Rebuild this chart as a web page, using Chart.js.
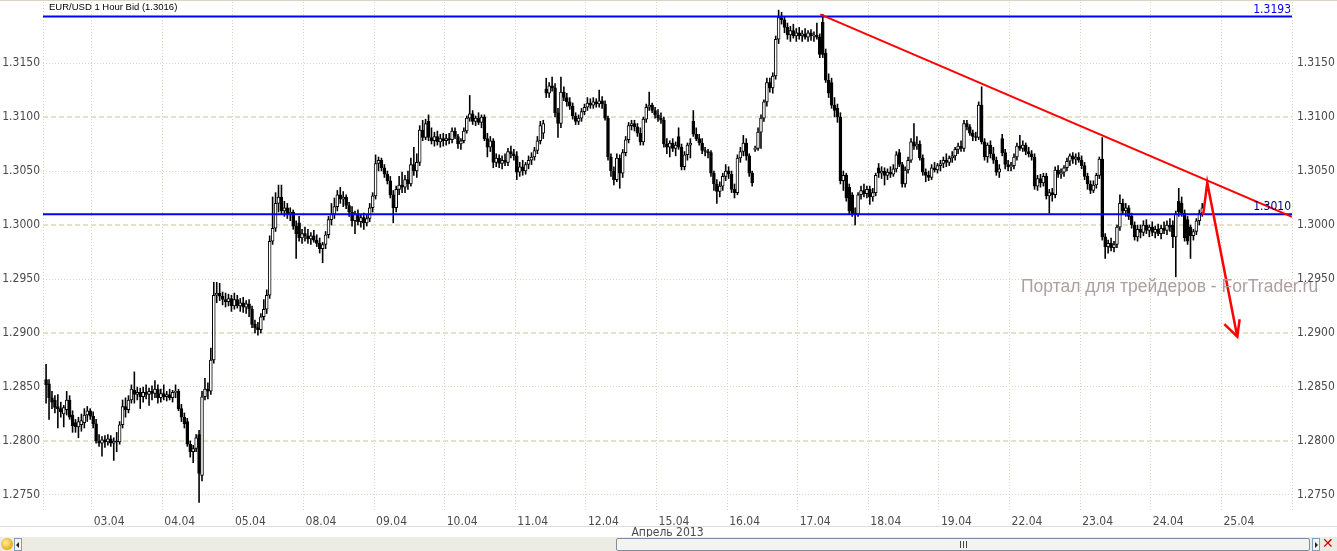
<!DOCTYPE html>
<html><head><meta charset="utf-8">
<script src="https://cdn.jsdelivr.net/npm/chart.js@4.4.1/dist/chart.umd.min.js"></script>
<style>
html,body{margin:0;padding:0;background:#fff;width:1337px;height:551px;overflow:hidden;position:relative;}
#wrap{position:absolute;left:0;top:0;width:1337px;height:539px;}
#title{position:absolute;left:49px;top:1px;font:9.5px "Liberation Sans",Arial,sans-serif;color:#000;line-height:12px;white-space:nowrap;}
#wm{position:absolute;left:1021px;top:276px;font:17.5px "Liberation Sans",Arial,sans-serif;color:#ae9f9f;white-space:nowrap;}
#topline{position:absolute;left:0;top:0;width:1337px;height:1px;background:#d8d4c4;}
#sep{position:absolute;left:0;top:526px;width:1337px;height:1px;background:#dcdcdc;}
#sb{position:absolute;left:0;top:537px;width:1337px;height:14px;background:#ecebe4;}
#ico{position:absolute;left:1px;top:1px;width:12px;height:12px;border-radius:50%;background:radial-gradient(circle at 40% 40%,#fff2a0,#e8a818 70%,#b07010);}
.btn{position:absolute;top:1px;width:6px;height:11px;border:1px solid #7f9db9;background:#f4f4f0;}
#la{left:14px;}#ra{left:1312px;}
.tri{position:absolute;top:3px;width:0;height:0;border-top:3px solid transparent;border-bottom:3px solid transparent;}
#la .tri{left:1px;border-right:3px solid #222;}
#ra .tri{left:2px;border-left:3px solid #222;}
#thumb{position:absolute;left:616px;top:1px;width:692px;height:11px;border:1px solid #7d8ea0;border-radius:2px;background:#f3f3ef;}
#grip{position:absolute;left:343px;top:2px;width:7px;height:7px;}
#grip i{position:absolute;top:0;width:1px;height:7px;background:#444;}
#xbtn{position:absolute;left:1322px;top:-1px;font:bold 14px "DejaVu Sans",sans-serif;color:#d40000;line-height:15px;}
</style></head>
<body>
<div id="wrap"><canvas id="c" width="1337" height="539"></canvas></div>
<div id="topline"></div>
<div id="title">EUR/USD 1 Hour Bid (1.3016)</div>
<div id="wm">Портал для трейдеров - ForTrader.ru</div>
<div id="sep"></div>
<div id="sb">
  <div id="ico"></div>
  <div class="btn" id="la"><div class="tri"></div></div>
  <div id="thumb"><div id="grip"><i style="left:0"></i><i style="left:3px"></i><i style="left:6px"></i></div></div>
  <div class="btn" id="ra"><div class="tri"></div></div>
  <div id="xbtn">✕</div>
</div>
<script>
// ---- Axis / tick data ----
const dayLabels = ['03.04','04.04','05.04','08.04','09.04','10.04','11.04','12.04','15.04','16.04','17.04','18.04','19.04','22.04','23.04','24.04','25.04'];
const dayTickHours = [24,48,72,96,120,144,168,192,216,240,264,288,312,336,360,384,408];
const priceTicks = [1.2750,1.2800,1.2850,1.2900,1.2950,1.3000,1.3050,1.3100,1.3150];
const axisTitle = 'Апрель 2013';
const X_MIN = 7.45, X_MAX = 432;       // hours from 02.04 00:00 (trading time)
const Y_MIN = 1.27361, Y_MAX = 1.32065;
const firstDayStartHour = 8;           // first bar: 02.04 08:00

// ---- Levels and drawings ----
const levels = [ {value:1.3193, color:'#0000ee'}, {value:1.3010, color:'#00006a'} ];
const trendLine = [[271.66,1.31951],[432,1.30076]];
const arrowPath = [[401.8,1.30093],[403.2,1.30392],[413.4,1.28966]];
const arrowHead = [[409.0,1.29083],[413.4,1.28966],[414.2,1.29127]];

// ---- Hourly OHLC, one row per trading day ----
const openRows = [
[1.2857,1.2853,1.2840,1.2838,1.2832,1.2830,1.2825,1.2829,1.2838,1.2824,1.2817,1.2813,1.2815,1.2817,1.2824,1.2828],
[1.2823,1.2816,1.2800,1.2798,1.2801,1.2799,1.2802,1.2798,1.2800,1.2799,1.2815,1.2832,1.2829,1.2838,1.2847,1.2843,1.2845,1.2841,1.2845,1.2843,1.2846,1.2844,1.2848,1.2840],
[1.2844,1.2841,1.2843,1.2840,1.2845,1.2846,1.2830,1.2822,1.2818,1.2797,1.2790,1.2793,1.2806,1.2768,1.2841,1.2848,1.2846,1.2875,1.2935,1.2937,1.2934,1.2931,1.2929,1.2932],
[1.2925,1.2931,1.2925,1.2928,1.2924,1.2927,1.2922,1.2908,1.2905,1.2903,1.2915,1.2922,1.2935,1.2985,1.2997,1.3020,1.3026,1.3013,1.3016,1.3010,1.3012,1.2999,1.3002,1.2988],
[1.2992,1.2990,1.2987,1.2990,1.2986,1.2983,1.2978,1.2982,1.2991,1.3005,1.3010,1.3017,1.3028,1.3024,1.3026,1.3018,1.3012,1.3004,1.3010,1.3003,1.3007,1.3002,1.3006,1.3016],
[1.3027,1.3057,1.3060,1.3053,1.3047,1.3041,1.3028,1.3016,1.3033,1.3037,1.3035,1.3042,1.3038,1.3056,1.3050,1.3058,1.3088,1.3081,1.3096,1.3081,1.3078,1.3082,1.3077,1.3080],
[1.3078,1.3080,1.3079,1.3087,1.3082,1.3075,1.3078,1.3087,1.3099,1.3103,1.3096,1.3099,1.3095,1.3100,1.3080,1.3072,1.3078,1.3058,1.3062,1.3057,1.3060,1.3058,1.3068,1.3066],
[1.3064,1.3049,1.3054,1.3050,1.3056,1.3060,1.3063,1.3069,1.3078,1.3085,1.3126,1.3122,1.3129,1.3127,1.3104,1.3094,1.3123,1.3118,1.3114,1.3110,1.3101,1.3096,1.3099,1.3105],
[1.3109,1.3113,1.3111,1.3114,1.3112,1.3115,1.3112,1.3099,1.3063,1.3050,1.3042,1.3062,1.3048,1.3067,1.3079,1.3092,1.3094,1.3091,1.3085,1.3077,1.3098,1.3109,1.3111,1.3106],
[1.3102,1.3099,1.3097,1.3075,1.3072,1.3076,1.3071,1.3082,1.3072,1.3054,1.3065,1.3074,1.3096,1.3084,1.3080,1.3076,1.3069,1.3068,1.3067,1.3048,1.3038,1.3031,1.3036,1.3045],
[1.3050,1.3047,1.3033,1.3030,1.3062,1.3068,1.3076,1.3064,1.3048,1.3070,1.3071,1.3086,1.3099,1.3114,1.3132,1.3127,1.3138,1.3172,1.3192,1.3190,1.3183,1.3176,1.3180,1.3175],
[1.3178,1.3175,1.3177,1.3174,1.3178,1.3175,1.3176,1.3174,1.3188,1.3159,1.3134,1.3132,1.3111,1.3108,1.3100,1.3041,1.3046,1.3035,1.3028,1.3011,1.3010,1.3028,1.3032,1.3029],
[1.3033,1.3026,1.3030,1.3053,1.3048,1.3050,1.3046,1.3049,1.3047,1.3052,1.3067,1.3056,1.3038,1.3051,1.3060,1.3077,1.3073,1.3075,1.3062,1.3049,1.3046,1.3044,1.3053,1.3051],
[1.3055,1.3057,1.3060,1.3058,1.3062,1.3064,1.3070,1.3073,1.3071,1.3094,1.3091,1.3085,1.3082,1.3081,1.3111,1.3077,1.3063,1.3074,1.3066,1.3060,1.3049,1.3080,1.3067,1.3056],
[1.3054,1.3055,1.3063,1.3073,1.3071,1.3074,1.3068,1.3066,1.3063,1.3036,1.3043,1.3039,1.3045,1.3027,1.3030,1.3028,1.3051,1.3047,1.3049,1.3053,1.3059,1.3064,1.3061,1.3063],
[1.3060,1.3055,1.3045,1.3038,1.3032,1.3037,1.3046,1.3061,1.2989,1.2980,1.2983,1.2979,1.2982,1.2998,1.3020,1.3013,1.3016,1.3008,1.3000,1.2989,1.2996,1.2993,1.3000,1.2995],
[1.2998,1.2993,1.2996,1.2992,1.2997,1.2995,1.3000,1.3000,1.2989,1.3022,1.3020,1.3011,1.3005,1.2998,1.2990,1.2994,1.3004,1.3011]
];
const highRows = [
[1.2871,1.2857,1.2846,1.2842,1.2843,1.2836,1.2833,1.2846,1.2842,1.2828,1.2820,1.2822,1.2825,1.2830,1.2832,1.2830],
[1.2827,1.2820,1.2806,1.2804,1.2805,1.2806,1.2805,1.2803,1.2808,1.2818,1.2838,1.2840,1.2842,1.2852,1.2864,1.2850,1.2849,1.2850,1.2852,1.2849,1.2851,1.2856,1.2852,1.2848],
[1.2852,1.2846,1.2848,1.2847,1.2852,1.2848,1.2834,1.2826,1.2821,1.2800,1.2796,1.2806,1.2810,1.2846,1.2858,1.2854,1.2886,1.2947,1.2947,1.2946,1.2938,1.2937,1.2936,1.2935],
[1.2937,1.2935,1.2932,1.2933,1.2930,1.2931,1.2925,1.2912,1.2910,1.2918,1.2931,1.2940,1.2990,1.3026,1.3030,1.3037,1.3037,1.3022,1.3020,1.3016,1.3014,1.3004,1.3008,1.2996],
[1.2998,1.2996,1.2993,1.2995,1.2991,1.2988,1.2984,1.2994,1.3008,1.3020,1.3025,1.3032,1.3035,1.3031,1.3028,1.3021,1.3017,1.3013,1.3014,1.3010,1.3011,1.3010,1.3020,1.3030],
[1.3065,1.3063,1.3062,1.3056,1.3050,1.3045,1.3032,1.3036,1.3045,1.3049,1.3046,1.3050,1.3062,1.3072,1.3066,1.3092,1.3097,1.3098,1.3102,1.3090,1.3086,1.3087,1.3084,1.3085],
[1.3084,1.3085,1.3090,1.3090,1.3084,1.3080,1.3090,1.3101,1.3120,1.3106,1.3101,1.3104,1.3102,1.3102,1.3085,1.3082,1.3080,1.3066,1.3065,1.3064,1.3066,1.3071,1.3073,1.3070],
[1.3068,1.3058,1.3060,1.3058,1.3064,1.3067,1.3072,1.3082,1.3096,1.3097,1.3136,1.3132,1.3137,1.3131,1.3108,1.3137,1.3128,1.3122,1.3118,1.3113,1.3104,1.3102,1.3108,1.3112],
[1.3118,1.3117,1.3118,1.3117,1.3125,1.3119,1.3115,1.3101,1.3066,1.3054,1.3066,1.3065,1.3070,1.3082,1.3095,1.3097,1.3097,1.3094,1.3090,1.3100,1.3112,1.3123,1.3113,1.3109],
[1.3107,1.3104,1.3100,1.3080,1.3078,1.3080,1.3077,1.3090,1.3075,1.3068,1.3076,1.3080,1.3106,1.3090,1.3084,1.3080,1.3072,1.3070,1.3069,1.3050,1.3042,1.3040,1.3048,1.3056],
[1.3054,1.3050,1.3038,1.3065,1.3072,1.3083,1.3080,1.3066,1.3050,1.3073,1.3090,1.3102,1.3116,1.3136,1.3136,1.3141,1.3175,1.3199,1.3197,1.3193,1.3187,1.3184,1.3186,1.3182],
[1.3183,1.3180,1.3182,1.3180,1.3181,1.3179,1.3187,1.3177,1.3195,1.3163,1.3140,1.3136,1.3118,1.3112,1.3104,1.3050,1.3048,1.3038,1.3030,1.3016,1.3030,1.3036,1.3038,1.3036],
[1.3036,1.3034,1.3048,1.3057,1.3054,1.3053,1.3052,1.3054,1.3056,1.3068,1.3070,1.3058,1.3054,1.3063,1.3080,1.3094,1.3082,1.3078,1.3065,1.3052,1.3050,1.3056,1.3058,1.3057],
[1.3060,1.3063,1.3066,1.3064,1.3068,1.3072,1.3076,1.3078,1.3097,1.3097,1.3093,1.3088,1.3086,1.3114,1.3128,1.3080,1.3076,1.3078,1.3072,1.3063,1.3056,1.3084,1.3070,1.3060],
[1.3058,1.3066,1.3076,1.3083,1.3078,1.3076,1.3072,1.3069,1.3066,1.3046,1.3047,1.3048,1.3048,1.3033,1.3034,1.3054,1.3055,1.3052,1.3055,1.3062,1.3066,1.3067,1.3066,1.3067],
[1.3064,1.3058,1.3048,1.3041,1.3041,1.3048,1.3063,1.3081,1.2992,1.2986,1.2988,1.2985,1.3000,1.3028,1.3024,1.3020,1.3018,1.3011,1.3003,1.3000,1.3000,1.3004,1.3005,1.3000],
[1.3003,1.2999,1.3001,1.3000,1.3003,1.3004,1.3006,1.3004,1.3013,1.3034,1.3026,1.3014,1.3008,1.3000,1.2996,1.3006,1.3014,1.3020]
];
const lowRows = [
[1.2835,1.2820,1.2830,1.2826,1.2812,1.2822,1.2813,1.2824,1.2820,1.2808,1.2808,1.2803,1.2809,1.2812,1.2818,1.2820],
[1.2812,1.2798,1.2795,1.2786,1.2794,1.2796,1.2795,1.2782,1.2790,1.2797,1.2812,1.2822,1.2826,1.2835,1.2835,1.2838,1.2830,1.2836,1.2839,1.2833,1.2838,1.2840,1.2835,1.2836],
[1.2838,1.2837,1.2838,1.2836,1.2840,1.2828,1.2818,1.2812,1.2795,1.2785,1.2780,1.2790,1.2743,1.2763,1.2838,1.2839,1.2843,1.2872,1.2928,1.2930,1.2926,1.2924,1.2925,1.2920],
[1.2922,1.2923,1.2920,1.2919,1.2918,1.2915,1.2905,1.2900,1.2898,1.2900,1.2912,1.2918,1.2932,1.2982,1.2994,1.3012,1.3010,1.3008,1.3006,1.3004,1.2996,1.2969,1.2985,1.2983],
[1.2985,1.2983,1.2982,1.2984,1.2980,1.2974,1.2965,1.2978,1.2988,1.3000,1.3006,1.3013,1.3020,1.3017,1.3015,1.3008,1.2999,1.2992,1.3000,1.2998,1.2996,1.2999,1.3003,1.3012],
[1.3024,1.3050,1.3050,1.3044,1.3038,1.3025,1.3002,1.3012,1.3028,1.3030,1.3030,1.3033,1.3036,1.3046,1.3044,1.3055,1.3078,1.3079,1.3078,1.3075,1.3073,1.3074,1.3072,1.3073],
[1.3074,1.3075,1.3076,1.3080,1.3071,1.3070,1.3076,1.3085,1.3096,1.3093,1.3092,1.3093,1.3090,1.3078,1.3063,1.3068,1.3053,1.3054,1.3053,1.3052,1.3055,1.3055,1.3062,1.3060],
[1.3042,1.3045,1.3046,1.3047,1.3052,1.3056,1.3060,1.3066,1.3075,1.3080,1.3118,1.3118,1.3124,1.3100,1.3081,1.3090,1.3115,1.3110,1.3107,1.3098,1.3093,1.3093,1.3096,1.3102],
[1.3106,1.3108,1.3108,1.3109,1.3109,1.3108,1.3097,1.3060,1.3045,1.3037,1.3040,1.3034,1.3044,1.3064,1.3076,1.3088,1.3087,1.3082,1.3074,1.3074,1.3095,1.3106,1.3104,1.3099],
[1.3096,1.3094,1.3072,1.3066,1.3063,1.3068,1.3064,1.3070,1.3051,1.3051,1.3060,1.3062,1.3082,1.3078,1.3074,1.3066,1.3064,1.3062,1.3045,1.3032,1.3020,1.3026,1.3032,1.3041],
[1.3043,1.3030,1.3025,1.3028,1.3058,1.3064,1.3060,1.3045,1.3036,1.3068,1.3069,1.3071,1.3096,1.3110,1.3123,1.3122,1.3135,1.3168,1.3186,1.3178,1.3172,1.3170,1.3173,1.3170],
[1.3172,1.3170,1.3172,1.3170,1.3171,1.3170,1.3172,1.3155,1.3155,1.3132,1.3118,1.3108,1.3100,1.3095,1.3038,1.3032,1.3022,1.3010,1.3008,1.3000,1.3008,1.3024,1.3026,1.3025],
[1.3019,1.3022,1.3027,1.3044,1.3043,1.3037,1.3042,1.3044,1.3045,1.3049,1.3054,1.3035,1.3035,1.3048,1.3058,1.3070,1.3070,1.3060,1.3046,1.3040,1.3041,1.3042,1.3049,1.3048],
[1.3050,1.3053,1.3054,1.3055,1.3058,1.3060,1.3066,1.3068,1.3068,1.3088,1.3083,1.3078,1.3078,1.3079,1.3075,1.3060,1.3058,1.3062,1.3057,1.3046,1.3044,1.3064,1.3052,1.3050],
[1.3050,1.3052,1.3060,1.3069,1.3068,1.3065,1.3063,1.3060,1.3033,1.3032,1.3035,1.3036,1.3024,1.3011,1.3022,1.3025,1.3044,1.3043,1.3045,1.3050,1.3055,1.3057,1.3056,1.3058],
[1.3052,1.3042,1.3033,1.3029,1.3030,1.3034,1.3043,1.2986,1.2969,1.2974,1.2976,1.2975,1.2979,1.2995,1.3010,1.3008,1.3005,1.2997,1.2986,1.2985,1.2988,1.2990,1.2992,1.2989],
[1.2990,1.2988,1.2990,1.2987,1.2992,1.2991,1.2994,1.2979,1.2952,1.3008,1.3008,1.2985,1.2982,1.2969,1.2986,1.2991,1.3000,1.3008]
];
const closeRows = [
[1.2852,1.2840,1.2836,1.2831,1.2830,1.2827,1.2831,1.2838,1.2822,1.2814,1.2813,1.2818,1.2819,1.2824,1.2828,1.2823],
[1.2816,1.2800,1.2798,1.2801,1.2799,1.2802,1.2798,1.2800,1.2799,1.2815,1.2832,1.2829,1.2838,1.2848,1.2843,1.2845,1.2841,1.2845,1.2843,1.2846,1.2844,1.2848,1.2840,1.2844],
[1.2841,1.2843,1.2840,1.2845,1.2846,1.2830,1.2822,1.2816,1.2797,1.2790,1.2793,1.2803,1.2770,1.2841,1.2848,1.2846,1.2875,1.2935,1.2937,1.2934,1.2931,1.2929,1.2932,1.2925],
[1.2931,1.2925,1.2928,1.2924,1.2927,1.2922,1.2908,1.2905,1.2903,1.2915,1.2922,1.2935,1.2985,1.2997,1.3020,1.3026,1.3013,1.3016,1.3010,1.3012,1.2999,1.2992,1.2988,1.2992],
[1.2990,1.2987,1.2990,1.2986,1.2983,1.2978,1.2982,1.2991,1.3005,1.3010,1.3017,1.3028,1.3024,1.3026,1.3018,1.3012,1.3004,1.3010,1.3003,1.3007,1.3002,1.3006,1.3016,1.3027],
[1.3057,1.3060,1.3053,1.3047,1.3041,1.3028,1.3016,1.3033,1.3037,1.3035,1.3042,1.3038,1.3056,1.3050,1.3058,1.3088,1.3081,1.3094,1.3081,1.3078,1.3082,1.3077,1.3080,1.3078],
[1.3080,1.3079,1.3087,1.3082,1.3075,1.3078,1.3087,1.3099,1.3103,1.3096,1.3099,1.3095,1.3100,1.3080,1.3072,1.3078,1.3058,1.3062,1.3057,1.3060,1.3058,1.3068,1.3066,1.3064],
[1.3049,1.3054,1.3050,1.3056,1.3060,1.3063,1.3069,1.3078,1.3092,1.3094,1.3122,1.3129,1.3127,1.3104,1.3094,1.3123,1.3118,1.3114,1.3110,1.3101,1.3096,1.3099,1.3105,1.3109],
[1.3113,1.3111,1.3114,1.3112,1.3115,1.3112,1.3099,1.3063,1.3050,1.3042,1.3062,1.3048,1.3067,1.3079,1.3092,1.3094,1.3091,1.3085,1.3077,1.3098,1.3109,1.3111,1.3106,1.3102],
[1.3099,1.3097,1.3075,1.3072,1.3076,1.3071,1.3074,1.3072,1.3054,1.3065,1.3074,1.3076,1.3084,1.3080,1.3076,1.3069,1.3068,1.3067,1.3048,1.3038,1.3031,1.3036,1.3045,1.3050],
[1.3047,1.3033,1.3030,1.3062,1.3068,1.3076,1.3064,1.3048,1.3039,1.3071,1.3086,1.3099,1.3114,1.3132,1.3127,1.3138,1.3172,1.3192,1.3190,1.3183,1.3176,1.3180,1.3175,1.3178],
[1.3175,1.3177,1.3174,1.3178,1.3175,1.3176,1.3174,1.3158,1.3158,1.3134,1.3122,1.3111,1.3106,1.3100,1.3041,1.3046,1.3025,1.3013,1.3011,1.3010,1.3028,1.3032,1.3029,1.3033],
[1.3026,1.3030,1.3046,1.3048,1.3050,1.3046,1.3049,1.3047,1.3052,1.3065,1.3056,1.3038,1.3051,1.3060,1.3077,1.3073,1.3075,1.3062,1.3049,1.3046,1.3044,1.3053,1.3051,1.3055],
[1.3057,1.3060,1.3058,1.3062,1.3064,1.3070,1.3073,1.3071,1.3094,1.3091,1.3085,1.3082,1.3081,1.3111,1.3077,1.3063,1.3074,1.3066,1.3060,1.3049,1.3052,1.3067,1.3056,1.3054],
[1.3055,1.3063,1.3073,1.3071,1.3074,1.3068,1.3066,1.3063,1.3036,1.3043,1.3039,1.3045,1.3027,1.3030,1.3028,1.3051,1.3047,1.3049,1.3053,1.3059,1.3064,1.3061,1.3063,1.3060],
[1.3055,1.3045,1.3038,1.3032,1.3037,1.3046,1.3061,1.2989,1.2980,1.2983,1.2979,1.2982,1.2998,1.3020,1.3013,1.3016,1.3008,1.3000,1.2989,1.2996,1.2993,1.3000,1.2995,1.2998],
[1.2993,1.2996,1.2992,1.2997,1.2995,1.3000,1.2998,1.2989,1.3010,1.3012,1.3011,1.2988,1.2985,1.2990,1.2994,1.3004,1.3011,1.3016]
];

// ---- Build candle records (x = centre of each hourly bar) ----
const candles = [];
openRows.forEach((row, d) => {
  const lens = [row.length, highRows[d].length, lowRows[d].length, closeRows[d].length];
  if (lens.some(l => l !== lens[0])) throw new Error('row ' + d + ' length mismatch ' + lens.join(','));
  const start = d === 0 ? firstDayStartHour : d * 24;
  row.forEach((o, j) => {
    candles.push({x: start + j + 0.5, o, h: highRows[d][j], l: lowRows[d][j], c: closeRows[d][j]});
  });
});

const AX_FONT = {family: '"Liberation Sans Narrow","DejaVu Sans Condensed","Liberation Sans",sans-serif', size: 12};
const AX_COLOR = '#4a4a4a';
const toXY = arr => arr.map(p => ({x: p[0], y: p[1]}));

const levelLabels = {
  id: 'levelLabels',
  afterDatasetsDraw(chart) {
    const {ctx, chartArea, scales: {y}} = chart;
    ctx.save();
    ctx.font = '12px ' + AX_FONT.family;
    ctx.textAlign = 'right';
    ctx.textBaseline = 'middle';
    levels.forEach(l => {
      ctx.fillStyle = l.color;
      ctx.fillText(l.value.toFixed(4), chartArea.right - 1, y.getPixelForValue(l.value) - 7);
    });
    ctx.restore();
  }
};

const isMajor = v => Math.abs(Math.round(v * 100) - v * 100) < 1e-6;
const noPad = ax => { ax.paddingTop = 0; ax.paddingBottom = 0; ax.paddingLeft = 0; ax.paddingRight = 0; };

new Chart(document.getElementById('c'), {
  type: 'bar',
  data: {
    datasets: [
      {label: 'wick', data: candles.map(k => ({x: k.x, y: [k.l, k.h]})),
       backgroundColor: '#000', borderWidth: 0, barThickness: 1, grouped: false, inflateAmount: 0.3, order: 4},
      {label: 'body', data: candles.map(k => ({x: k.x, y: [k.o, k.c]})),
       backgroundColor: candles.map(k => k.c >= k.o ? '#ffffff' : '#000000'),
       borderColor: '#000', borderWidth: 1, borderSkipped: false, barThickness: 3, grouped: false, inflateAmount: 0.3, order: 3},
      ...levels.map(l => ({type: 'line', label: 'level', data: [{x: X_MIN, y: l.value}, {x: X_MAX, y: l.value}],
        borderColor: '#0000ff', borderWidth: 2, pointRadius: 0, order: 2})),
      {type: 'line', label: 'trend', data: toXY(trendLine), borderColor: '#ff0000', borderWidth: 2, pointRadius: 0, order: 1},
      {type: 'line', label: 'arrow', data: toXY(arrowPath), borderColor: '#ff0000', borderWidth: 2.5, pointRadius: 0, order: 1},
      {type: 'line', label: 'head', data: toXY(arrowHead), borderColor: '#ff0000', borderWidth: 2.5, pointRadius: 0, order: 1}
    ]
  },
  options: {
    responsive: false, animation: false, devicePixelRatio: 1,
    layout: {padding: {top: 2, left: 0, right: 0, bottom: 0}},
    plugins: {legend: {display: false}, tooltip: {enabled: false}},
    scales: {
      x: {
        type: 'linear', min: X_MIN, max: X_MAX, offset: false,
        afterBuildTicks: ax => { ax.ticks = [{value: X_MIN}, ...dayTickHours.map(v => ({value: v})), {value: X_MAX}]; },
        afterFit: ax => { ax.height = 29; noPad(ax); },
        ticks: {autoSkip: false, maxRotation: 0, align: 'start', labelOffset: 2, padding: 5, color: AX_COLOR, font: AX_FONT,
          callback: v => { const k = dayTickHours.indexOf(v); return k >= 0 ? dayLabels[k] : ''; }},
        grid: {offset: false, color: '#d9d5c0', lineWidth: 1, drawTicks: false},
        border: {display: false, dash: [1, 2]},
        title: {display: true, text: axisTitle, color: AX_COLOR, font: {...AX_FONT, lineHeight: 1}, padding: 0}
      },
      y: {
        type: 'linear', position: 'left', min: Y_MIN, max: Y_MAX, beginAtZero: false,
        afterBuildTicks: ax => { ax.ticks = priceTicks.map(v => ({value: v})); },
        afterFit: ax => { ax.width = 43; noPad(ax); },
        ticks: {padding: 3, color: AX_COLOR, font: AX_FONT, callback: v => Number(v).toFixed(4)},
        grid: {drawTicks: false,
          color: c => isMajor(c.tick.value) ? '#e6e1cb' : '#dcd8c4',
          lineWidth: c => isMajor(c.tick.value) ? 2 : 1},
        border: {display: false, dash: c => (c.tick && isMajor(c.tick.value)) ? [5, 3] : [1, 2]}
      },
      y2: {
        type: 'linear', position: 'right', min: Y_MIN, max: Y_MAX, beginAtZero: false,
        afterBuildTicks: ax => { ax.ticks = priceTicks.map(v => ({value: v})); },
        afterFit: ax => { ax.width = 45; noPad(ax); },
        ticks: {padding: 5, color: AX_COLOR, font: AX_FONT, callback: v => Number(v).toFixed(4)},
        grid: {display: false, drawTicks: false},
        border: {display: false}
      }
    }
  },
  plugins: [levelLabels]
});
</script>
</body></html>
